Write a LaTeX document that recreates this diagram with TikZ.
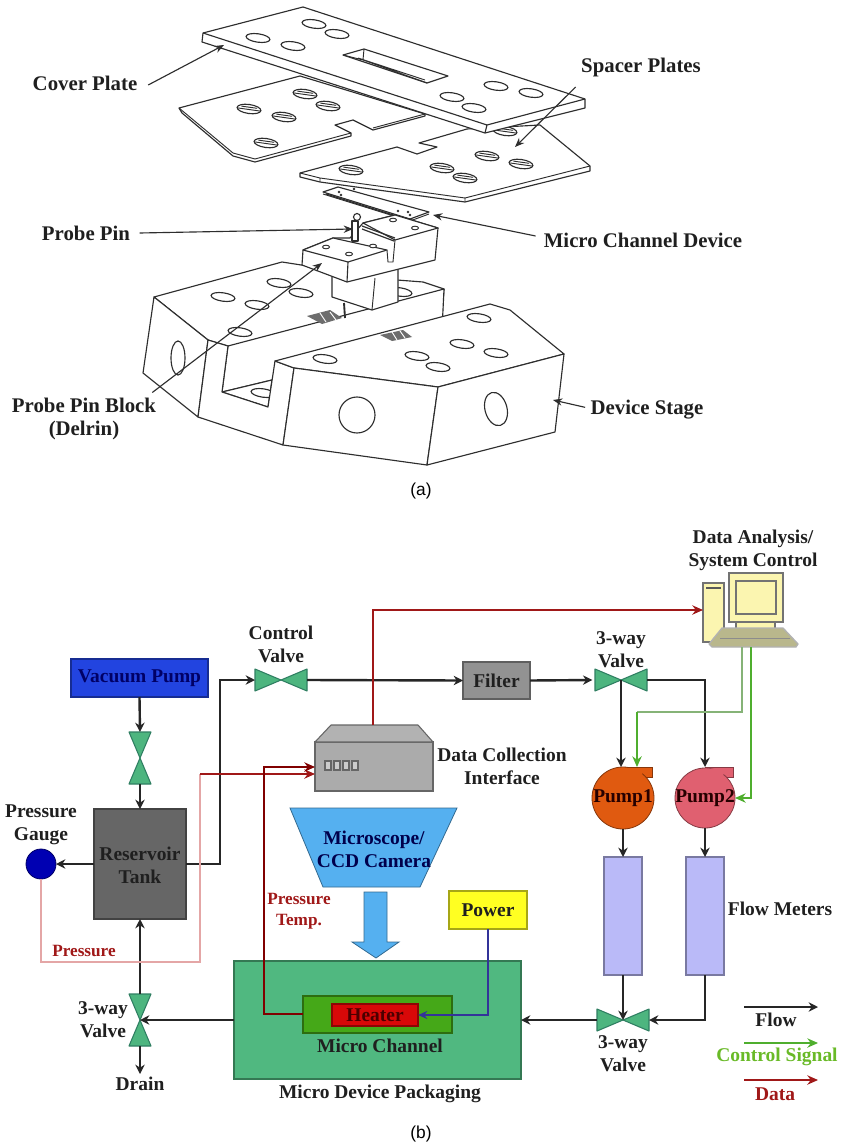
\documentclass[tikz,border=0pt]{standalone}
\usepackage{fontspec}
\setmainfont{Liberation Serif}
\newfontfamily\capfont{Liberation Sans}
\usetikzlibrary{arrows.meta,calc}
\def\px{0.75pt}
\definecolor{ink}{HTML}{2E2E2E}
\definecolor{vgreen}{HTML}{4DB57F}
\definecolor{vedge}{HTML}{2F7F62}
\definecolor{datared}{HTML}{A01818}
\definecolor{ctlgreen}{HTML}{4FAE2E}
\definecolor{cpkg}{HTML}{50B880}
\definecolor{cchan}{HTML}{45A818}
\definecolor{cheat}{HTML}{D80808}
\definecolor{cvac}{HTML}{2244E0}
\definecolor{cres}{HTML}{666666}
\definecolor{cfilter}{HTML}{929292}
\definecolor{cpow}{HTML}{FFFF22}
\definecolor{cmeter}{HTML}{BABAF8}
\definecolor{cmic}{HTML}{55B0F0}
\definecolor{cpa}{HTML}{E05A10}
\definecolor{cpb}{HTML}{E06070}
\tikzset{
 plate/.style={draw=ink,fill=white,line width=0.85pt,line join=round},
 thin part/.style={draw=ink,line width=0.7pt},
 lab/.style={font=\fontsize{14.6}{17.2}\selectfont\bfseries,align=center,text=black!88,inner sep=1pt},
 biglab/.style={lab,font=\fontsize{15.6}{17.2}\selectfont\bfseries},
 smallred/.style={lab,font=\fontsize{12.9}{15.6}\selectfont\bfseries,text=datared},
 callout/.style={draw=ink,line width=0.85pt,-{Stealth[length=7pt,width=5.5pt]}},
 flow/.style={draw=black!85,line width=1.8pt,-{Stealth[length=7pt,width=7pt]}},
 datal/.style={draw=datared,line width=1.2pt,-{Stealth[length=8pt,width=7pt]}},
 ctl/.style={draw=ctlgreen,line width=1.1pt,-{Stealth[length=8pt,width=7pt]}},
 valvetri/.style={draw=vedge,fill=vgreen,line width=0.8pt,line join=round},
}
% name, x1, y1, x2, y2, fill, text
\newcommand\bx[7]{%
 \node[draw=#6!65!black,fill=#6,line width=0.8pt,outer sep=0pt,lab,inner sep=0pt,
   minimum width=(#4-#2)*\px,minimum height=(#5-#3)*\px]
   (#1) at ({(#2+#4)/2},{(#3+#5)/2}) {#7};}
\newcommand\hvalve[3]{%
 \node[minimum width=52*\px,minimum height=22*\px,inner sep=0pt,outer sep=0pt] (#1) at (#2,#3) {};
 \path[valvetri] (#1.center) -- (#1.north west) -- (#1.south west) -- cycle;
 \path[valvetri] (#1.center) -- (#1.north east) -- (#1.south east) -- cycle;}
\newcommand\vvalve[3]{%
 \node[minimum width=22*\px,minimum height=52*\px,inner sep=0pt,outer sep=0pt] (#1) at (#2,#3) {};
 \path[valvetri] (#1.center) -- (#1.north west) -- (#1.north east) -- cycle;
 \path[valvetri] (#1.center) -- (#1.south west) -- (#1.south east) -- cycle;}
\newcommand\hole[2]{\draw[draw=ink,fill=white,line width=0.85pt,rotate around={-8:(#1,#2)}] (#1,#2) ellipse [x radius=12*\px,y radius=4.2*\px];}
\newcommand\hhole[2]{\draw[draw=ink,fill=white,line width=0.85pt,rotate around={-8:(#1,#2)}] (#1,#2) ellipse [x radius=12*\px,y radius=4.5*\px];
 \draw[ink,line width=0.7pt,rotate around={-8:(#1,#2)}] (#1-11,#2+0.5) -- (#1+11,#2+0.5) (#1-8,#2-1.8) -- (#1+8,#2-1.8);}
\begin{document}
\begin{tikzpicture}[x=0.75pt,y=-0.75pt]
\useasboundingbox (0,0) rectangle (841,1148);
\fill[white] (0,0) rectangle (841,1148);

%%%% (a) exploded view %%%%
% left stage block
\path[plate] (154,297) -- (282,262) -- (397,280) -- (423,282) -- (444,289) -- (442,317) -- (272,380) -- (228,346) -- (208,340) -- cycle;
\path[plate] (154,297) -- (208,340) -- (198,417) -- (143,373) -- cycle;
\path[plate] (228,346) -- (444,289) -- (442,330) -- (272,380) -- (222,392) -- cycle;
\path[plate] (222,392) -- (272,380) -- (268,407) -- cycle;
\hole{263}{393}
\path[plate] (208,340) -- (228,346) -- (222,392) -- (268,407) -- (275,361) -- (294,368) -- (283,445) -- (198,417) -- cycle;
\hole{223}{297}\hole{257}{305}\hole{279}{283}\hole{301}{293}\hole{240}{332}\hole{400}{292}
\draw[plate,fill=none] (178,358) ellipse [x radius=7*\px,y radius=17*\px];
% chip on left stage
\path[fill=ink!70] (307,316) -- (330,310) -- (342,318) -- (322,324) -- cycle;
\draw[white,line width=0.7pt] (320,313) -- (326,322) (330,312) -- (336,320);
% pedestal
\path[plate] (332,270) -- (398,255) -- (398,302) -- (372,310) -- (332,297) -- cycle;
\draw[thin part] (375,278) -- (372,310);
\draw[ink,line width=1.4pt] (344,303) -- (345,318);
% micro channel device
\path[plate] (323,192) -- (338,187) -- (429,212) -- (410,219) -- cycle;
\draw[thin part] (323,194) -- (410,221) -- (429,214);
\draw[ink,line width=0.9pt] (326,194) -- (406,219);
\foreach \a/\b in {339/192,341/195,354/189,398/211,408/212,410/215}{\fill[ink] (\a,\b) circle [radius=1.3*\px];}
% upper block
\path[plate] (363,223) -- (395,215) -- (438,228) -- (435,260) -- (347,282) -- (302,265) -- (303,250) -- (333,238) -- (350,238) -- cycle;
\path[plate] (303,250) -- (333,238) -- (387,250) -- (348,262) -- cycle;
\path[plate] (363,223) -- (395,215) -- (438,228) -- (395,240) -- cycle;
\draw[plate,fill=none] (348,262) -- (347,282);
\draw[thin part] (387,250) -- (388,262) -- (393,262) -- (395,240);
\draw[ink,line width=0.9pt] (362,226) -- (395,238) (362,229) -- (394,241);
\foreach \a/\b in {326/247,349/254,373/246,393/220,415/228}{\draw[ink,line width=0.7pt,fill=white] (\a,\b) ellipse [x radius=3.5*\px,y radius=1.8*\px];}
\draw[plate] (352,221) -- (352,241) -- (358,241) -- (358,221) -- cycle;
\draw[plate] (357,217) circle [radius=3.5*\px];
% right stage block
\path[plate] (275,361) -- (490,304) -- (510,310) -- (564,354) -- (438,387) -- (294,368) -- cycle;
\path[plate] (294,368) -- (438,387) -- (427,465) -- (283,445) -- cycle;
\path[plate] (438,387) -- (564,354) -- (555,432) -- (427,465) -- cycle;
\hole{325}{359}\hole{417}{356}\hole{438}{367}\hole{462}{344}\hole{496}{353}\hole{479}{318}
\draw[plate,fill=none] (357,415) circle [radius=18*\px];
\draw[plate,fill=none,rotate around={15:(496,409)}] (496,409) ellipse [x radius=11*\px,y radius=17*\px];
\path[fill=ink!70] (380,335) -- (403,330) -- (412,337) -- (392,341) -- cycle;
\draw[white,line width=0.7pt] (392,332) -- (397,340) (400,331) -- (405,338);
% left spacer
\path[plate] (179,108) -- (182,113) -- (233,156) -- (255,162) -- (351,136) -- (351,133) -- (335,125) -- (353,120) -- (373,130) -- (425,116) -- (425,114) -- (300,76) -- cycle;
\draw[thin part] (179,108) -- (233,153) -- (255,159) -- (351,133) (373,128) -- (425,114);
\hhole{249}{109}\hhole{284}{117}\hhole{305}{94}\hhole{328}{106}\hhole{266}{143}
% right spacer
\path[plate] (540,125) -- (590,166) -- (590,171) -- (465,202) -- (320,182) -- (300,177) -- (300,173) -- (397,147) -- (417,154) -- (437,147) -- (419,143) -- (467,129) -- cycle;
\draw[thin part] (300,173) -- (320,178) -- (465,198) -- (590,166) (465,198) -- (465,202) (320,178) -- (320,182);
\hhole{351}{170}\hhole{442}{168}\hhole{465}{178}\hhole{487}{156}\hhole{521}{164}\hhole{505}{131}
% cover plate
\path[plate] (203,33) -- (202,42) -- (485,133) -- (585,108) -- (585,99) -- (303,7) -- cycle;
\draw[plate,fill=none] (203,33) -- (487,125) -- (585,99) (487,125) -- (485,133);
\hole{258}{38}\hole{293}{46}\hole{314}{24}\hole{337}{34}\hole{452}{97}\hole{474}{108}\hole{496}{86}\hole{531}{93}
\path[plate] (343,55) -- (364,49) -- (448,76) -- (427,83) -- cycle;
\draw[thin part] (343,55) -- (363,60) -- (427,83) (364,49) -- (363,60) (358,58) -- (425,80);

% labels of (a)
\node[biglab] (coverlab) at (85,83) {Cover Plate};
\node[biglab] (spacerlab) at (641,68) {Spacer Plates};
\node[biglab] (pinlab) at (86,233) {Probe Pin};
\node[biglab] (devlab) at (643,240) {Micro Channel Device};
\node[biglab] (blocklab) at (84,419) {Probe Pin Block\\(Delrin)};
\node[biglab] (stagelab) at (647,410) {Device Stage};
\coordinate (covertip) at (224,45);
\coordinate (spacertip) at (515,147);
\coordinate (pintip) at (353,229);
\coordinate (devtip) at (433,215);
\coordinate (blocktip) at (322,263);
\coordinate (stagetip) at (553,400);
\draw[callout] ([xshift=7pt,yshift=-1.5pt]coverlab.east) -- (covertip);
\draw[callout] ([xshift=-3pt,yshift=-6pt]spacerlab.south west) -- (spacertip);
\draw[callout] ([xshift=6pt]pinlab.east) -- (pintip);
\draw[callout] ([xshift=-5pt,yshift=3pt]devlab.west) -- (devtip);
\draw[callout] ([xshift=-4pt,yshift=3pt]blocklab.north east) -- (blocktip);
\draw[callout] ([xshift=-3pt,yshift=2pt]stagelab.west) -- (stagetip);
\node[font=\capfont\fontsize{13}{15}\selectfont,inner sep=0pt] (capa) at (421,491) {(a)};

%%%% (b) flow loop %%%%
\bx{pkg}{234}{961}{521}{1079}{cpkg}{}
\bx{chan}{303}{996}{452}{1033}{cchan}{}
\bx{heater}{332}{1004}{418}{1026}{cheat}{\textcolor{black!70!red}{Heater}}
\bx{vac}{71}{659}{208}{697}{cvac}{\textcolor{blue!40!black}{Vacuum Pump}}
\bx{res}{94}{809}{186}{919}{cres}{}
\node[lab] (reslab) at (140,865) {Reservoir\\Tank};
\bx{filter}{463}{662}{530}{699}{cfilter}{Filter}
\bx{power}{449}{891}{527}{929}{cpow}{Power}
\bx{metera}{604}{857}{642}{975}{cmeter}{}
\bx{meterb}{686}{857}{724}{975}{cmeter}{}
\node[circle,draw=blue!40!black,fill=blue!70!black,minimum size=30*\px,inner sep=0pt,outer sep=0pt,line width=0.6pt] (gauge) at (41,864) {};
\vvalve{vacv}{140}{758}
\vvalve{drainv}{140}{1020}
\hvalve{ctlv}{281}{680}
\hvalve{topv}{621}{680}
\hvalve{botv}{623}{1020}
% data interface
\node[draw=black!60,fill=black!33,line width=0.8pt,minimum width=118*\px,minimum height=49*\px,outer sep=0pt,inner sep=0pt] (daq) at (374,766.5) {};
\path[draw=black!60,fill=black!30,line width=0.8pt,line join=round] (daq.north west) -- ++(16,-17) -- ++(87,0) -- (daq.north east) -- cycle;
\foreach \a in {325,334,343,352}{\draw[black!60,line width=0.8pt,fill=black!20] (\a,761) rectangle +(6,9);}
% microscope
\path[draw=cmic!60!black,fill=cmic,line width=0.6pt] (290,808) -- (457,808) -- (420,887) -- (323,887) -- cycle;
\node[lab,text=blue!30!black] (miclab) at (374,849) {Microscope/\\CCD Camera};
\path[draw=cmic!60!black,fill=cmic,line width=0.6pt] (364,892) -- (387,892) -- (387,942) -- (399,942) -- (376,958) -- (352,942) -- (364,942) -- cycle;
% pumps
\fill[cpa] (623,767) -- (652,767) -- (652,777) -- (642,777) -- (635,770) -- cycle;
\draw[cpa!60!black,line width=0.6pt] (623,767) -- (652,767) -- (652,777) -- (642,777);
\node[circle,fill=cpa,draw=cpa!60!black,minimum size=62*\px,inner sep=0pt,outer sep=0pt,line width=0.6pt] (pumpa) at (623,798) {};
\fill[cpa] (623,768) -- (645,768) -- (640,778) -- cycle;
\node[lab,inner sep=0pt,text=black!85!red] (pumpalab) at (623,798) {Pump1};
\fill[cpb] (705,767) -- (733,767) -- (733,777) -- (724,777) -- (717,770) -- cycle;
\draw[cpb!60!black,line width=0.6pt] (705,767) -- (733,767) -- (733,777) -- (724,777);
\node[circle,fill=cpb,draw=cpb!60!black,minimum size=60*\px,inner sep=0pt,outer sep=0pt,line width=0.6pt] (pumpb) at (705,798) {};
\fill[cpb] (705,768.5) -- (726,768.5) -- (722,778) -- cycle;
\node[lab,inner sep=0pt,text=black!85!red] (pumpblab) at (705,798) {Pump2};
% computer
\definecolor{pcy}{HTML}{FBF5B0}
\definecolor{pck}{HTML}{B9B78C}
\node[draw=black!55,fill=pcy,line width=0.8pt,minimum width=21*\px,minimum height=59*\px,inner sep=0pt,outer sep=0pt] (tower) at (713.5,612.5) {};
\draw[black!65,line width=1.2pt] (706,588) -- (721,588);
\path[draw=black!55,fill=pcy,line width=0.8pt] (736,622) rectangle (775,630);
\node[draw=black!55,fill=pcy,line width=0.8pt,minimum width=54*\px,minimum height=49*\px,inner sep=0pt,outer sep=0pt] (monitor) at (756,597.5) {};
\draw[black!55,fill=pcy,line width=0.8pt] (736,581) rectangle (776,614);
\path[draw=white!70!black,fill=pck,line width=1pt,line join=round] (722,628) -- (783,628) -- (798,644) -- (796,647) -- (712,647) -- (709,644) -- cycle;
\draw[black!45,line width=0.6pt] (720,638) -- (790,638);
\coordinate (kbd) at (751,647);
\coordinate (kbdb) at (742,647);

% flow connectors
\draw[flow] (vac.south) -- (vacv.north);
\draw[flow] (vacv.south) -- (res.north);
\draw[flow] (res.west) -- (gauge.east);
\draw[flow] (res.east) -- (220,864) |- (ctlv.west);
\draw[flow] (ctlv.east) -- (filter.west);
\draw[flow] (filter.east) -- ([xshift=-2pt]topv.west);
\draw[flow] (topv.center) -- (topv.center |- 0,767);
\draw[flow] (topv.east) -| (705,767);
\draw[flow] (pumpa.south) -- (metera.north);
\draw[flow] (pumpb.south) -- (meterb.north);
\draw[flow] (metera.south) -- (botv.center);
\draw[flow] (meterb.south) |- (botv.east);
\draw[flow] (botv.west) -- (pkg.east |- botv.west);
\draw[flow] (pkg.west |- botv.west) -- (drainv.center);
\draw[flow] (drainv.north) -- (res.south);
\node[lab] (drainlab) at (140,1084) {Drain};
\coordinate (draintip) at (140,1074);
\draw[flow] (drainv.south) -- (draintip);

% data connectors
\draw[datal] (373,725) -- (373,610) -- (tower.west |- 0,610);
\draw[draw=black!30!red!35!white,line width=1.1pt] (gauge.south) -- (41,962) -- (200,962) -- (200,774);
\draw[datal] (200,774) -- (daq.west |- 0,774);
\draw[datal,draw=black!50!red] (chan.west |- 0,1014) -- (264,1014) -- (264,767) -- (daq.west |- 0,767);
\draw[draw=blue!50!black!80,line width=1.2pt,-{Stealth[length=7pt,width=6pt]}] (power.south) -- (488,1015) -- (heater.east |- 0,1015);
% control connectors
\draw[draw=ctlgreen!55!white!85!black,line width=1pt] (kbdb) -- (742,712) -- (637,712);
\draw[ctl] (637,712) -- (637,767);
\draw[ctl] (kbd) -- (751,798) -- (735,798);

% labels of (b)
\node[lab] (datalab) at (753,550) {Data Analysis/\\System Control};
\node[lab] (ctlvlab) at (281,644) {Control\\Valve};
\node[lab] (topvlab) at (621,650) {3-way\\Valve};
\node[lab] (daqlab) at (502,766) {Data Collection\\Interface};
\node[lab] (gaugelab) at (41,825) {Pressure\\Gauge};
\node[smallred] (plab) at (84,951) {Pressure};
\node[smallred] (ptlab) at (299,911) {Pressure\\Temp.};
\node[lab] (chanlab) at (380,1046) {Micro Channel};
\node[lab] (pkglab) at (380,1094) {Micro Device Packaging};
\node[lab] (dvlab) at (103,1020) {3-way\\Valve};
\node[lab] (botvlab) at (623,1054) {3-way\\Valve};
\node[lab] (fmlab) at (780,909) {Flow Meters};
% legend
\coordinate (lfa) at (744,1007); \coordinate (lfb) at (818,1007);
\coordinate (lca) at (744,1043); \coordinate (lcb) at (818,1043);
\coordinate (lda) at (744,1080); \coordinate (ldb) at (818,1080);
\draw[flow,line width=1.2pt] (lfa) -- (lfb);
\node[lab] (lflab) at (776,1020) {Flow};
\draw[ctl] (lca) -- (lcb);
\node[lab,text=ctlgreen!85!yellow] (lclab) at (777,1057) {Control Signal};
\draw[datal] (lda) -- (ldb);
\node[lab,text=datared] (ldlab) at (775,1094) {Data};
\node[font=\capfont\fontsize{13}{15}\selectfont,inner sep=0pt] (capb) at (421,1134) {(b)};
\end{tikzpicture}
\end{document}
